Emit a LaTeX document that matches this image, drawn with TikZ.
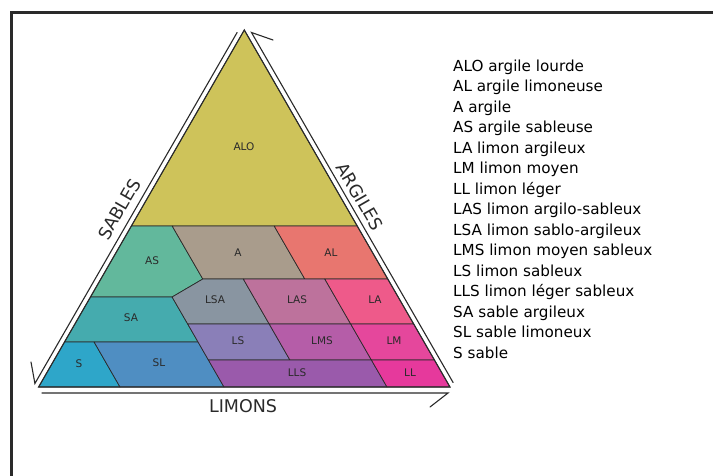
\documentclass[tikz,border=0pt]{standalone}
\usepackage{fontspec}
\setmainfont{DejaVu Sans}
\definecolor{cALO}{HTML}{CEC35A}
\definecolor{cAS}{HTML}{62B89C}
\definecolor{cA}{HTML}{A99C8C}
\definecolor{cAL}{HTML}{E8766F}
\definecolor{cSA}{HTML}{45ABAE}
\definecolor{cLSA}{HTML}{8995A1}
\definecolor{cLAS}{HTML}{BD729C}
\definecolor{cLA}{HTML}{EE5A8A}
\definecolor{cS}{HTML}{2EA6C9}
\definecolor{cSL}{HTML}{4F8EC2}
\definecolor{cLS}{HTML}{8A7FB8}
\definecolor{cLMS}{HTML}{B55DA8}
\definecolor{cLM}{HTML}{E5479C}
\definecolor{cLLS}{HTML}{9A5AAB}
\definecolor{cLL}{HTML}{E6399C}
\definecolor{ink}{HTML}{2A2A2A}
\begin{document}
\begin{tikzpicture}[x=1pt,y=-1pt,
  region/.style={draw=ink,line width=0.7pt,line join=round},
  rlabel/.style={font=\fontsize{10.5}{11}\selectfont,text=ink,inner sep=0pt},
  axislabel/.style={font=\fontsize{17.5}{18}\selectfont,text=ink,inner sep=0pt},
  legend/.style={font=\fontsize{15.2}{16}\selectfont,anchor=base west,inner sep=0pt,text=black},
  guide/.style={draw=ink,line width=1.1pt,line cap=round}]
\useasboundingbox (0,0) rectangle (713,475);
\fill[white] (0,0) rectangle (713,475);
% frame
\draw[line width=3pt,color=ink] (11.5,476) -- (11.5,12.5) -- (714,12.5);

% regions
\filldraw[region,fill=cALO] (244.3,30) -- (131.4,226) -- (357.2,226) -- cycle;
\filldraw[region,fill=cAS] (131.4,226) -- (172.2,226) -- (202.8,279) -- (172.1,297) -- (90.5,297) -- cycle;
\filldraw[region,fill=cA] (172.2,226) -- (274.2,226) -- (304.8,279) -- (202.8,279) -- cycle;
\filldraw[region,fill=cAL] (274.2,226) -- (357.2,226) -- (387.8,279) -- (304.8,279) -- cycle;
\filldraw[region,fill=cSA] (90.5,297) -- (172.1,297) -- (198.1,342) -- (64.5,342) -- cycle;
\filldraw[region,fill=cLSA] (202.8,279) -- (243.3,279) -- (269.2,324) -- (187.7,324) -- (172.1,297) -- cycle;
\filldraw[region,fill=cLAS] (243.3,279) -- (324.8,279) -- (350.7,324) -- (269.2,324) -- cycle;
\filldraw[region,fill=cLA] (324.8,279) -- (387.8,279) -- (413.7,324) -- (350.7,324) -- cycle;
\filldraw[region,fill=cS] (64.5,342) -- (94.1,342) -- (120,387) -- (38.6,387) -- cycle;
\filldraw[region,fill=cSL] (94.1,342) -- (198.1,342) -- (224,387) -- (120,387) -- cycle;
\filldraw[region,fill=cLS] (187.7,324) -- (269.2,324) -- (289.9,360) -- (208.4,360) -- cycle;
\filldraw[region,fill=cLMS] (269.2,324) -- (350.7,324) -- (371.4,360) -- (289.9,360) -- cycle;
\filldraw[region,fill=cLM] (350.7,324) -- (413.7,324) -- (434.4,360) -- (371.4,360) -- cycle;
\filldraw[region,fill=cLLS] (208.4,360) -- (371.4,360) -- (387,387) -- (224,387) -- cycle;
\filldraw[region,fill=cLL] (371.4,360) -- (434.4,360) -- (450,387) -- (387,387) -- cycle;
% triangle outline
\draw[draw=ink,line width=1.1pt,line join=miter] (244.3,30) -- (38.6,387) -- (450,387) -- cycle;

% guide lines with half arrow ticks
\coordinate (sTop) at (237.1,32.5);
\coordinate (sEnd) at (34.9,383.5);
\coordinate (sTick) at (31,362);
\draw[guide] (sTick) -- (sEnd) -- (sTop);
\coordinate (aTop) at (251.5,32.5);
\coordinate (aEnd) at (453.1,382.5);
\coordinate (aTick) at (273,40);
\draw[guide] (aTick) -- (aTop) -- (aEnd);
\coordinate (lStart) at (42,393);
\coordinate (lEnd) at (448,393);
\coordinate (lTick) at (430,407);
\draw[guide] (lStart) -- (lEnd) -- (lTick);

% axis labels
\node[axislabel,rotate=60] (sables) at (119.5,209.5) {SABLES};
\node[axislabel,rotate=-60] (argiles) at (360,196.5) {ARGILES};
\node[axislabel] (limons) at (243,406) {LIMONS};

% region labels
\node[rlabel] (tALO) at (244,147) {ALO};
\node[rlabel] (tAS) at (152,261) {AS};
\node[rlabel] (tA) at (238,253) {A};
\node[rlabel] (tAL) at (331,253) {AL};
\node[rlabel] (tLSA) at (215,300) {LSA};
\node[rlabel] (tLAS) at (297,300) {LAS};
\node[rlabel] (tLA) at (375,300) {LA};
\node[rlabel] (tSA) at (131,318) {SA};
\node[rlabel] (tLS) at (238,341) {LS};
\node[rlabel] (tLMS) at (322,341) {LMS};
\node[rlabel] (tLM) at (394,341) {LM};
\node[rlabel] (tS) at (79,364) {S};
\node[rlabel] (tSL) at (159,363) {SL};
\node[rlabel] (tLLS) at (297,373) {LLS};
\node[rlabel] (tLL) at (410,373) {LL};

% legend
\node[legend] (g1) at (453,71.5) {ALO argile lourde};
\node[legend] (g2) at (453,91.98) {AL argile limoneuse};
\node[legend] (g3) at (453,112.46) {A argile};
\node[legend] (g4) at (453,132.94) {AS argile sableuse};
\node[legend] (g5) at (453,153.42) {LA limon argileux};
\node[legend] (g6) at (453,173.9) {LM limon moyen};
\node[legend] (g7) at (453,194.38) {LL limon léger};
\node[legend] (g8) at (453,214.86) {LAS limon argilo-sableux};
\node[legend] (g9) at (453,235.34) {LSA limon sablo-argileux};
\node[legend] (g10) at (453,255.82) {LMS limon moyen sableux};
\node[legend] (g11) at (453,276.3) {LS limon sableux};
\node[legend] (g12) at (453,296.78) {LLS limon léger sableux};
\node[legend] (g13) at (453,317.26) {SA sable argileux};
\node[legend] (g14) at (453,337.74) {SL sable limoneux};
\node[legend] (g15) at (453,358.22) {S sable};
\end{tikzpicture}
\end{document}
